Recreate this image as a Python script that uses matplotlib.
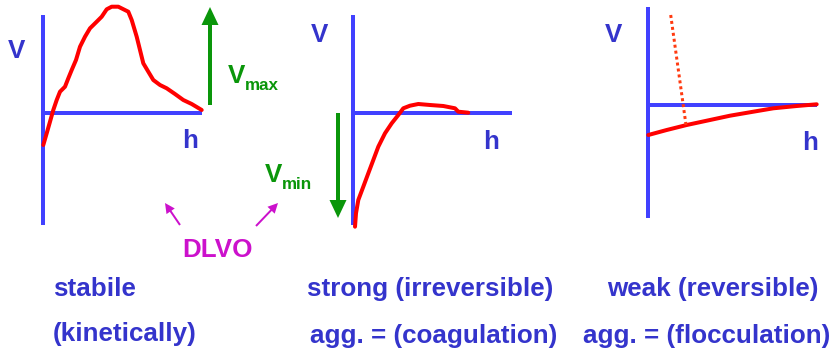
"""Three DLVO potential sketches: stable, strong (coagulation), weak (flocculation)."""
import matplotlib
matplotlib.use("Agg")
import matplotlib.pyplot as plt

W, H = 839, 351
AXIS_BLUE = "#4141FF"
TEXT_BLUE = "#3434CC"
RED = "#FF0000"
DOT_RED = "#FF3A10"
GREEN = "#0A960A"
MAGENTA = "#CC11CC"
FONT = "Liberation Sans"

# curves in image pixel coordinates (x right, y down)
stable_x = [43.3, 46.7, 50, 53.3, 56.7, 60, 65, 68.3, 71.7, 76, 80, 85, 90,
            96.7, 101.7, 106.7, 111.7, 118.3, 128.3, 131.7, 136.7, 140,
            143.3, 148.3, 153.3, 160, 166.7, 175, 183.3, 191.7, 201.7]
stable_y = [145, 133.3, 121.7, 110, 100, 91.7, 86.7, 78.3, 70, 60, 46.7, 36.7,
            28.3, 21.7, 16.7, 9.3, 6.7, 6.7, 11.7, 20, 36.7, 50, 63.3, 71.7,
            80, 85, 88.3, 94, 100, 104, 110]

strong_x = [355, 356, 358.3, 363.3, 368.3, 373.3, 378.3, 385, 391.7, 398.3,
            403.3, 410, 418.3, 430, 443.3, 455, 458.3, 468.3]
strong_y = [226.7, 213.3, 200, 186.7, 173.3, 160, 146.7, 133.3, 123.3, 115,
            108.3, 105.7, 104, 105, 106, 108.3, 111.7, 112.7]

weak_x = [648.3, 666.7, 686.7, 710, 730, 753.3, 773.3, 796.7, 816.7]
weak_y = [135, 130, 125, 120, 115.7, 111.7, 108.3, 106, 104.3]
weak_dot_x = [670.7, 686]
weak_dot_y = [15, 125]

# axes: (vertical x, vertical y0, vertical y1, horizontal y, horizontal x1)
axis_vx = [43.3, 353.3, 648.3]
axis_vy0 = [15, 15, 7.3]
axis_vy1 = [225, 225, 218.3]
axis_hy = [112.7, 112.7, 105]
axis_hx1 = [201.7, 511.7, 816.7]

v_labels = [(17, 51), (319.5, 35), (614, 35)]
h_labels = [(190, 141), (491, 142), (810, 143)]

captions = [
    ("stabile", 53, 296),
    ("(kinetically)", 53, 341),
    ("strong (irreversible)", 307, 296),
    ("agg. = (coagulation)", 310, 343),
    ("weak (reversible)", 607, 296),
    ("agg. = (flocculation)", 583, 343),
]

PX = 0.72  # px -> pt at dpi 100

fig = plt.figure(figsize=(W / 100, H / 100), dpi=100)
ax = fig.add_axes([0, 0, 1, 1])
ax.set_xlim(0, W)
ax.set_ylim(H, 0)
ax.axis("off")

for vx, y0, y1, hy, hx1 in zip(axis_vx, axis_vy0, axis_vy1, axis_hy, axis_hx1):
    ax.plot([vx, vx], [y0, y1], color=AXIS_BLUE, lw=4 * PX, solid_capstyle="butt")
    ax.plot([vx, hx1], [hy, hy], color=AXIS_BLUE, lw=4 * PX, solid_capstyle="butt")

for xs, ys in [(stable_x, stable_y), (strong_x, strong_y), (weak_x, weak_y)]:
    ax.plot(xs, ys, color=RED, lw=4 * PX, solid_joinstyle="round",
            solid_capstyle="round", zorder=3)
ax.plot(weak_dot_x, weak_dot_y, color=DOT_RED, lw=3 * PX,
        linestyle=(0, (1.0, 1.0)), zorder=3)

txt = dict(family=FONT, weight="bold")
for x, y in v_labels:
    ax.text(x, y, "V", ha="center", va="center", fontsize=26 * PX,
            color=TEXT_BLUE, **txt)
for x, y in h_labels:
    ax.text(x, y, "h", ha="center", va="center", fontsize=26 * PX,
            color=TEXT_BLUE, **txt)

# green arrows: V_max up, V_min down
ax.arrow(210, 105, 0, -98, width=4, head_width=17, head_length=18,
         length_includes_head=True, color=GREEN, lw=0)
ax.arrow(338, 113, 0, 105, width=4, head_width=17, head_length=18,
         length_includes_head=True, color=GREEN, lw=0)
ax.text(228, 83, "V", ha="left", va="baseline", fontsize=26 * PX,
        color=GREEN, **txt)
ax.text(245, 90, "max", ha="left", va="baseline", fontsize=17 * PX,
        color=GREEN, **txt)
ax.text(265, 182, "V", ha="left", va="baseline", fontsize=26 * PX,
        color=GREEN, **txt)
ax.text(282, 189, "min", ha="left", va="baseline", fontsize=17 * PX,
        color=GREEN, **txt)

# DLVO with two magenta arrows
ax.text(218, 257, "DLVO", ha="center", va="baseline", fontsize=26 * PX,
        color=MAGENTA, **txt)
ax.arrow(180, 225, -15, -22, width=2, head_width=10, head_length=10,
         length_includes_head=True, color=MAGENTA, lw=0)
ax.arrow(256, 226, 22, -23, width=2, head_width=10, head_length=10,
         length_includes_head=True, color=MAGENTA, lw=0)

for s, x, y in captions:
    ax.text(x, y, s, ha="left", va="baseline", fontsize=26 * PX,
            color=TEXT_BLUE, **txt)

fig.savefig("out.png", dpi=100)
